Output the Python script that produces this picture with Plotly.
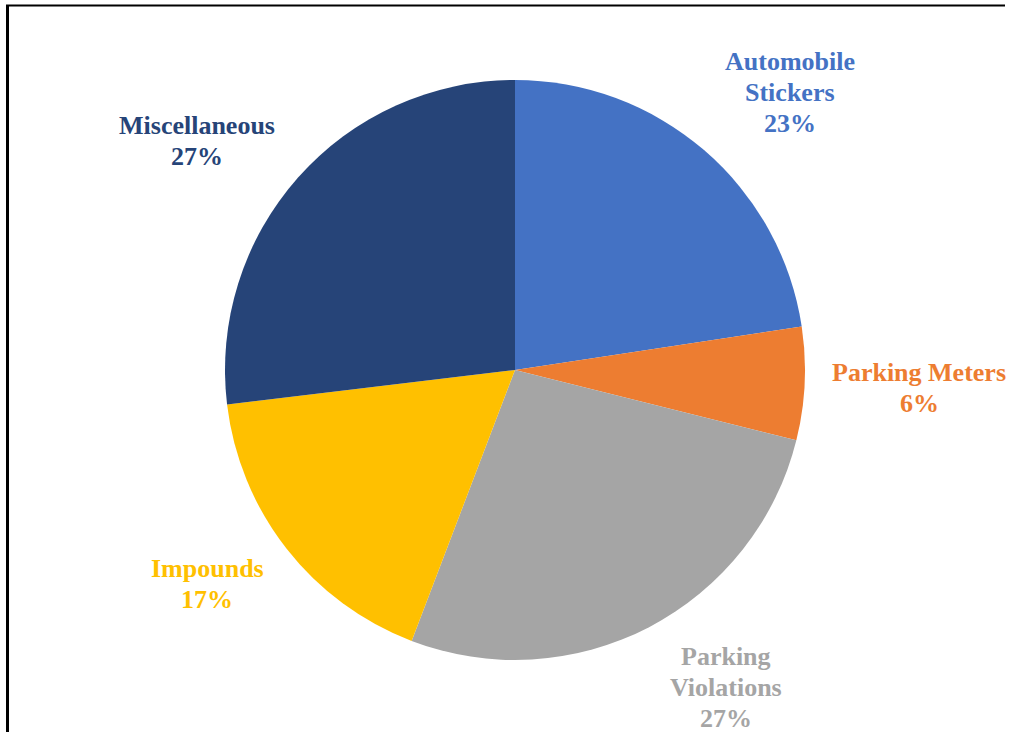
import plotly.graph_objects as go

categories = ["Automobile Stickers", "Parking Meters", "Parking Violations", "Impounds", "Miscellaneous"]
label_lines = [["Automobile", "Stickers"], ["Parking Meters"], ["Parking", "Violations"], ["Impounds"], ["Miscellaneous"]]
values = [22.6, 6.3, 26.9, 17.3, 26.9]
colors = ["#4472C4", "#ED7D31", "#A5A5A5", "#FFC000", "#264478"]

# label anchor positions: (center x, first-line center y) in px, layout only
label_pos = [(790, 61), (919, 373), (726, 656), (207, 568), (197, 125)]
LINE_H = 31

W, H = 1011, 732
cx, cy, R = 515, 370, 290

fig = go.Figure(go.Pie(
    labels=categories, values=values, sort=False, direction="clockwise", rotation=0,
    marker=dict(colors=colors, line=dict(width=0)), textinfo="none", hoverinfo="label+percent",
    domain=dict(x=[(cx - R) / W, (cx + R) / W], y=[1 - (cy + R) / H, 1 - (cy - R) / H]),
    showlegend=False,
))

total = sum(values)
for lines, v, c, (px, py) in zip(label_lines, values, colors, label_pos):
    texts = lines + [f"{round(v / total * 100)}%"]
    for i, t in enumerate(texts):
        fig.add_annotation(
            x=px / W, y=1 - (py + i * LINE_H) / H, xref="paper", yref="paper",
            text=f"<b>{t}</b>",
            showarrow=False, align="center", xanchor="center", yanchor="middle",
            font=dict(family="Liberation Serif, Times New Roman, serif", size=26, color=c),
        )

# frame lines (left and top)
fig.add_shape(type="line", xref="paper", yref="paper", x0=7.5 / W, x1=7.5 / W, y0=0, y1=1 - 5 / H,
              line=dict(color="black", width=3))
fig.add_shape(type="line", xref="paper", yref="paper", x0=6 / W, x1=1005 / W, y0=1 - 5.5 / H, y1=1 - 5.5 / H,
              line=dict(color="black", width=2))

fig.update_layout(width=W, height=H, margin=dict(l=0, r=0, t=0, b=0),
                  paper_bgcolor="white", plot_bgcolor="white")
fig.write_html("out.html", config={"displayModeBar": False},
               post_script="document.body.style.margin='0';")
